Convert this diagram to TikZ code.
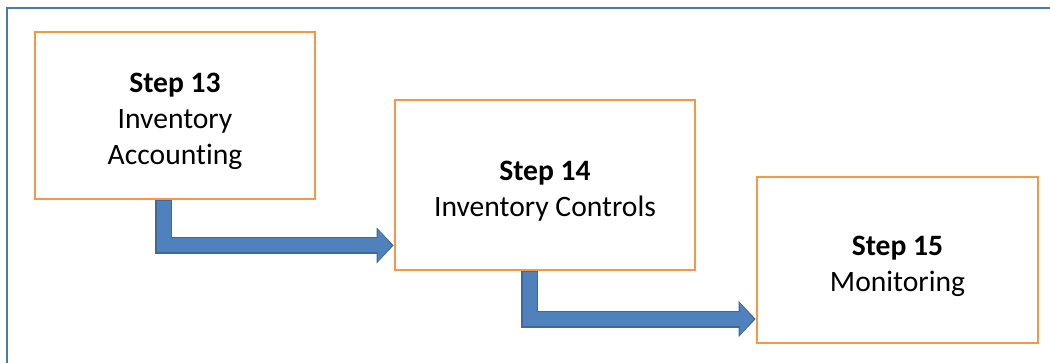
\documentclass[tikz,border=0pt]{standalone}
\usepackage{fontspec}
\setmainfont{Carlito}[Ligatures=NoCommon]
\usetikzlibrary{calc}
\usetikzlibrary{arrows.meta}
\definecolor{frameblue}{HTML}{4A7AA8}
\definecolor{boxorange}{HTML}{F79646}
\definecolor{arrowfill}{HTML}{4F81BD}
\definecolor{arrowedge}{HTML}{3F6A98}
\tikzset{stepbox/.style={draw=boxorange,line width=2pt,fill=white,align=center,
    font=\fontsize{22.2pt}{27pt}\selectfont,inner sep=0pt,text depth=0pt,text height=47.5pt}}
\tikzset{arrowouter/.style={draw=arrowedge,line width=12.75pt,line join=miter,
    -{Triangle[width=26.25pt,length=12.75pt]}}}
\tikzset{arrowinner/.style={draw=arrowfill,line width=10.5pt,line join=miter,
    shorten >=1.5pt,-{Triangle[width=23.2pt,length=10.3pt]}}}

\begin{document}
\begin{tikzpicture}[x=0.75pt,y=-0.75pt]
                \clip (0,0) rectangle (1050,362);
                \draw[frameblue,line width=1.6pt] (7,8) rectangle (1080,400);

                \node[stepbox,text height=73.5pt,minimum width=210pt,minimum height=125.25pt] (box13) at (175,115.5)
                    {\textbf{Step 13}\\Inventory\\Accounting};
                \node[stepbox,minimum width=225pt,minimum height=127.5pt] (box14) at (545,185)
                    {\textbf{Step 14}\\Inventory Controls};
                \node[stepbox,minimum width=210.75pt,minimum height=124.5pt] (box15) at (897.5,260)
                    {\textbf{Step 15}\\Monitoring};

                \draw[arrowouter] ($(box13.south west)!0.46!(box13.south east)$) |- ($(box14.south west)!0.15!(box14.north west)$);
                \draw[arrowinner] ($(box13.south west)!0.46!(box13.south east)+(0,1)$) |- ($(box14.south west)!0.15!(box14.north west)$);
                \draw[arrowouter] ($(box14.south west)!0.45!(box14.south east)$) |- ($(box15.south west)!0.15!(box15.north west)$);
                \draw[arrowinner] ($(box14.south west)!0.45!(box14.south east)+(0,1)$) |- ($(box15.south west)!0.15!(box15.north west)$);
            \end{tikzpicture}
\end{document}
